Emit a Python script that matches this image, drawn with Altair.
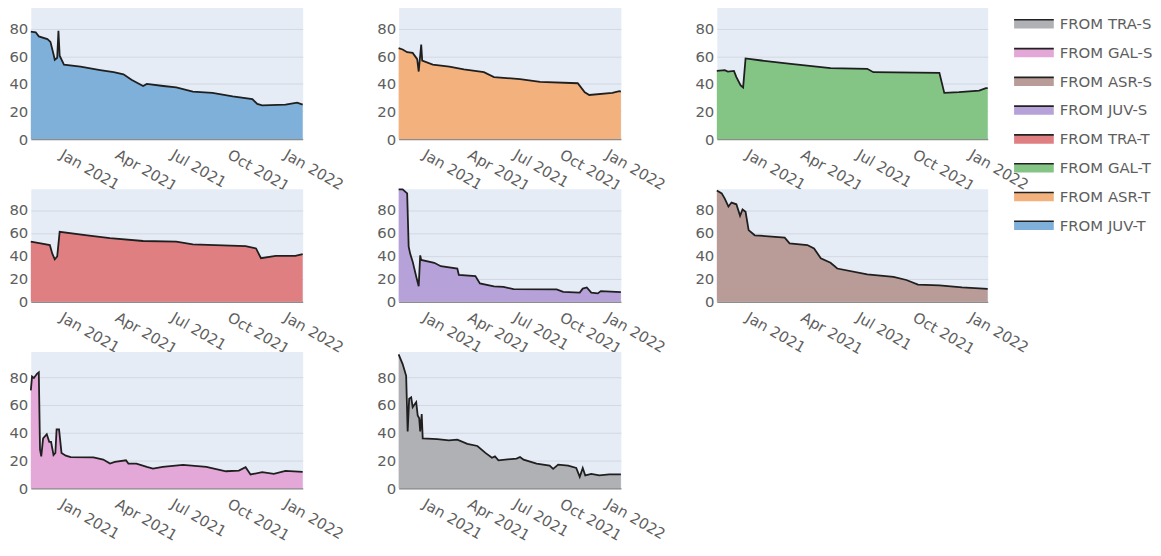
import altair as alt
import pandas as pd

series_order = ["FROM TRA-S", "FROM GAL-S", "FROM ASR-S", "FROM JUV-S",
                "FROM TRA-T", "FROM GAL-T", "FROM ASR-T", "FROM JUV-T"]
fill_colors = ["#b0b1b4", "#e3a7d8", "#b99c97", "#b6a1d8",
               "#e07f81", "#84c585", "#f3b27d", "#7eb0d9"]

juv_t_dates = ["2020-11-17", "2020-11-25", "2020-11-30", "2020-12-14", "2020-12-19", "2020-12-24",
               "2020-12-26", "2020-12-30", "2021-01-01", "2021-01-03", "2021-01-10", "2021-02-06",
               "2021-03-10", "2021-04-01", "2021-04-17", "2021-04-30", "2021-05-19", "2021-05-25",
               "2021-06-21", "2021-07-12", "2021-08-08", "2021-09-09", "2021-10-12", "2021-11-13",
               "2021-11-21", "2021-11-29", "2022-01-06", "2022-01-25", "2022-02-03"]
juv_t_values = [78, 77.5, 74.5, 72.5, 70.5, 61.5, 57.5, 59, 78.5, 60.5, 54, 52.5, 50, 48.5, 47,
                43, 38.5, 40, 38.5, 37.5, 34.5, 33.5, 31, 29, 25.5, 24.5, 25, 26.5, 25]

asr_t_dates = ["2020-11-17", "2020-11-25", "2020-12-04", "2020-12-15", "2020-12-24", "2020-12-27",
               "2021-01-01", "2021-01-03", "2021-01-24", "2021-02-26", "2021-03-27", "2021-05-06",
               "2021-05-26", "2021-07-17", "2021-08-26", "2021-11-09", "2021-11-23", "2021-12-02",
               "2022-01-17", "2022-01-31", "2022-02-03"]
asr_t_values = [66, 65, 63, 62.5, 58, 49, 68.5, 57, 54, 52.5, 50.5, 48.5, 45, 43.5, 41.5, 40.5,
                34, 32, 33.5, 34.8, 34.5]

gal_t_dates = ["2020-11-17", "2020-11-30", "2020-12-05", "2020-12-15", "2020-12-19", "2020-12-26",
               "2020-12-30", "2021-01-03", "2021-01-29", "2021-03-18", "2021-05-22", "2021-07-21",
               "2021-07-31", "2021-11-16", "2021-11-24", "2021-12-18", "2022-01-20", "2022-01-31",
               "2022-02-03"]
gal_t_values = [49.5, 50, 49, 49.5, 45, 39, 37.5, 58.5, 57, 54.5, 51.5, 51, 48.5, 48, 33.5, 34,
                35.2, 37, 37]

tra_t_dates = ["2020-11-17", "2020-12-03", "2020-12-18", "2020-12-22", "2020-12-26", "2020-12-30",
               "2021-01-03", "2021-02-17", "2021-03-26", "2021-05-19", "2021-07-12", "2021-08-08",
               "2021-11-02", "2021-11-19", "2021-11-27", "2021-12-21", "2022-01-22", "2022-02-03"]
tra_t_values = [52.5, 51, 49.5, 42, 37, 39.5, 61, 58, 55.5, 53, 52.5, 50, 48.5, 46.5, 38, 40, 40, 41.5]

juv_s_dates = ["2020-11-17", "2020-11-25", "2020-12-04", "2020-12-07", "2020-12-10", "2020-12-15",
               "2020-12-22", "2020-12-27", "2020-12-30", "2021-01-01", "2021-01-27", "2021-02-09",
               "2021-03-14", "2021-03-17", "2021-04-19", "2021-04-28", "2021-05-26", "2021-06-14",
               "2021-07-04", "2021-09-28", "2021-10-11", "2021-11-13", "2021-11-19", "2021-11-27",
               "2021-12-06", "2021-12-19", "2021-12-25", "2022-02-03"]
juv_s_values = [98, 98, 94.5, 48, 42, 35, 22, 13.5, 40.5, 36.5, 34, 31, 29, 23.5, 22.5, 16, 13.5,
                13, 11, 10.8, 8.7, 8, 11.5, 12.5, 8, 7.3, 9.3, 8.4]

asr_s_dates = ["2020-11-17", "2020-11-25", "2020-11-30", "2020-12-06", "2020-12-11", "2020-12-19",
               "2020-12-25", "2020-12-29", "2021-01-03", "2021-01-08", "2021-01-18", "2021-03-08",
               "2021-03-16", "2021-04-14", "2021-04-25", "2021-05-06", "2021-05-22", "2021-06-02",
               "2021-07-21", "2021-09-02", "2021-09-23", "2021-10-12", "2021-11-16", "2021-12-23",
               "2022-02-03"]
asr_s_values = [97, 94.5, 90, 83, 86.5, 85, 75, 80.5, 78.5, 62.5, 58, 56, 51, 49.5, 46.5, 38, 34,
                29, 24, 21.8, 19, 15, 14.3, 12.5, 11.3]

gal_s_dates = ["2020-11-17", "2020-11-19", "2020-11-22", "2020-11-27", "2020-11-30", "2020-12-02",
               "2020-12-04", "2020-12-07", "2020-12-13", "2020-12-17", "2020-12-20", "2020-12-24",
               "2020-12-27", "2020-12-29", "2021-01-02", "2021-01-06", "2021-01-13", "2021-01-21",
               "2021-02-27", "2021-03-15", "2021-03-26", "2021-04-03", "2021-04-21", "2021-04-25",
               "2021-05-08", "2021-05-25", "2021-06-04", "2021-06-20", "2021-07-23", "2021-08-30",
               "2021-10-01", "2021-10-22", "2021-11-02", "2021-11-10", "2021-11-29", "2021-12-18",
               "2022-01-06", "2022-02-03"]
gal_s_values = [70.5, 80.5, 79.5, 82.5, 83.5, 28, 23, 36, 39, 33.5, 33.5, 24, 25.5, 42.5, 42.5,
                25.5, 23.5, 22.5, 22.3, 20.7, 17.8, 19, 20.2, 17.8, 17.8, 15.4, 14.2, 15.4, 16.9,
                15.4, 12.3, 12.8, 15.2, 10, 11.6, 10.4, 12.6, 11.9]

tra_s_dates = ["2020-11-17", "2020-11-25", "2020-12-02", "2020-12-05", "2020-12-08", "2020-12-12",
               "2020-12-15", "2020-12-18", "2020-12-22", "2020-12-25", "2020-12-28", "2020-12-30",
               "2021-01-02", "2021-01-04", "2021-02-02", "2021-02-25", "2021-03-14", "2021-04-03",
               "2021-04-23", "2021-05-09", "2021-05-22", "2021-05-28", "2021-06-04", "2021-07-10",
               "2021-07-17", "2021-07-24", "2021-08-19", "2021-09-14", "2021-09-21", "2021-10-01",
               "2021-10-21", "2021-11-06", "2021-11-13", "2021-11-19", "2021-11-24", "2021-12-06",
               "2021-12-22", "2022-01-11", "2022-02-03"]
tra_s_values = [96.5, 89.5, 81, 41, 64.5, 65.5, 58.5, 60, 62, 52.5, 50.5, 41, 53.5, 36, 35.5, 34.5,
                35, 32, 30.5, 25.5, 22, 23, 20.2, 21.4, 22.6, 20.7, 17.8, 16.4, 14, 17.1, 16.4,
                14.7, 8.3, 14.7, 9.3, 10.4, 9.3, 10, 10]

tick_dates = [(2021, 1), (2021, 4), (2021, 7), (2021, 10), (2022, 1)]
y_ticks = [0, 20, 40, 60, 80]

series_data = {
    "FROM JUV-T": (juv_t_dates, juv_t_values),
    "FROM ASR-T": (asr_t_dates, asr_t_values),
    "FROM GAL-T": (gal_t_dates, gal_t_values),
    "FROM TRA-T": (tra_t_dates, tra_t_values),
    "FROM JUV-S": (juv_s_dates, juv_s_values),
    "FROM ASR-S": (asr_s_dates, asr_s_values),
    "FROM GAL-S": (gal_s_dates, gal_s_values),
    "FROM TRA-S": (tra_s_dates, tra_s_values),
}

rows = []
for name, (ds, vs) in series_data.items():
    for d, v in zip(ds, vs):
        rows.append({"series": name, "date": d, "value": v})
df = pd.DataFrame(rows)

FONT = "DejaVu Sans"
TXT = "#5e5e5e"

x_domain = [alt.DateTime(year=2020, month=11, date=17, utc=True),
            alt.DateTime(year=2022, month=2, date=3, utc=True)]
x_axis = alt.Axis(
    values=[alt.DateTime(year=y, month=m, date=1, utc=True) for y, m in tick_dates],
    format="%b %Y", labelAngle=30, labelAlign="left", labelBaseline="top",
    labelPadding=8, labelOffset=6, ticks=False, domain=True, domainColor="#8d8d8d",
    domainWidth=1.5, grid=False, labelColor=TXT, labelFontSize=15, labelFont=FONT,
    labelOverlap=False, labelFlush=False, title=None)
y_axis = alt.Axis(values=y_ticks, ticks=False, domain=False, grid=True,
                  gridColor="#d3d8e2", gridWidth=1, labelPadding=3,
                  labelColor=TXT, labelFontSize=15, labelFont=FONT, title=None)

legend_path = "M-1,-0.22L1,-0.22L1,0.22L-1,0.22Z"
legend = alt.Legend(
    orient="none", legendX=990, legendY=7, direction="vertical", title=None,
    symbolType=legend_path, symbolSize=1600, symbolStrokeColor="#222222",
    symbolStrokeWidth=1.6, symbolDash=[40, 60], symbolOpacity=1,
    clipHeight=28.4, labelOffset=5, labelFontSize=15, labelFont=FONT,
    labelColor=TXT, padding=0, rowPadding=0, labelLimit=300)
fill_scale = alt.Scale(domain=series_order, range=fill_colors)


def panel(name, width, height, ytop):
    base = alt.Chart(df).transform_filter(alt.datum.series == name)
    x = alt.X("date:T", scale=alt.Scale(type="utc", domain=x_domain), axis=x_axis)
    y = alt.Y("value:Q", scale=alt.Scale(domain=[0, ytop], nice=False, zero=True), axis=y_axis)
    area = base.mark_area(opacity=1).encode(
        x=x, y=y, fill=alt.Fill("series:N", scale=fill_scale, legend=legend))
    line = base.mark_line(color="#1f1f1f", strokeWidth=1.8).encode(x=x, y=y)
    return alt.layer(area, line).properties(width=width, height=height)


widths = [274, 224, 273]
heights = [137, 114, 138]
tops = [98.6, 98.6, 98.6]
grid_order = ["FROM JUV-T", "FROM ASR-T", "FROM GAL-T",
              "FROM TRA-T", "FROM JUV-S", "FROM ASR-S",
              "FROM GAL-S", "FROM TRA-S"]

panels = []
for i, name in enumerate(grid_order):
    r, c = divmod(i, 3)
    panels.append(panel(name, widths[c], heights[r], tops[r]))

chart = alt.concat(*panels, columns=3, spacing={"row": 50, "column": 96.7},
                   bounds="flush", align="each").properties(
    padding={"top": -8, "left": 0, "right": 0, "bottom": 0}
).configure(font=FONT).configure_view(fill="#E5ECF6", stroke="transparent")

chart.save("out.html", embed_options={"renderer": "svg", "actions": False})
